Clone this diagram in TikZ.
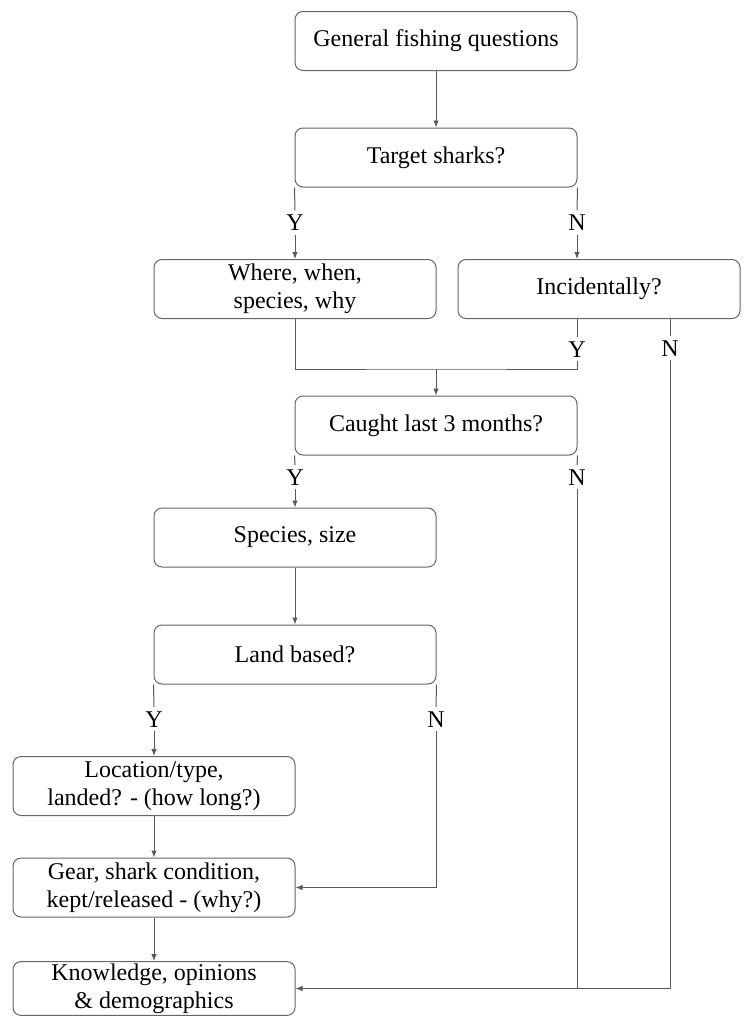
\documentclass[tikz,border=0pt]{standalone}
\usepackage{fontspec}
\setmainfont{Liberation Serif}
\usetikzlibrary{arrows.meta}
\begin{document}
\begin{tikzpicture}[x=1pt,y=-1pt,
  stepbox/.style={draw=black!60, line width=1pt, rounded corners=8pt, minimum width=282pt, minimum height=59pt, align=center, inner sep=2pt, font=\fontsize{24}{28}\selectfont},
  yn/.style={font=\fontsize{24}{28}\selectfont, inner sep=0pt, text height=16pt, text depth=0pt, minimum height=24pt},
  conn/.style={draw=black!65, line width=1pt},
  arr/.style={conn, -{Latex[length=7pt,width=5.5pt]}}]
\useasboundingbox[fill=white] (0,0) rectangle (745,1017);
% boxes
\node[stepbox] (gen) at (436,41) {General fishing questions};
\node[stepbox] (target) at (436,157.5) {Target sharks?};
\node[stepbox] (where) at (295,289) {Where, when,\\species, why};
\node[stepbox] (incid) at (599,289) {Incidentally?};
\node[stepbox] (caught) at (436,425.5) {Caught last 3 months?};
\node[stepbox] (species) at (295,537.5) {Species, size};
\node[stepbox] (land) at (295,654.5) {Land based?};
\node[stepbox] (loc) at (154,786) {Location/type,\\landed? - (how long?)};
\node[stepbox] (gear) at (154,887.5) {Gear, shark condition,\\kept/released - (why?)};
\node[stepbox, minimum height=53pt] (know) at (154,988.5) {Knowledge, opinions\\\& demographics};
% labels
\node[yn] (yT) at (295,222.5) {Y};
\node[yn] (nT) at (577,222.5) {N};
\node[yn] (yI) at (577,349) {Y};
\node[yn] (nI) at (670,348) {N};
\node[yn] (yC) at (295,477) {Y};
\node[yn] (nC) at (577,477) {N};
\node[yn] (yL) at (154,719) {Y};
\node[yn] (nL) at (436,719) {N};
\coordinate (merge) at (436,369);
% connectors
\draw[arr] (gen) -- (target);
\draw[conn] (target.south west) -- (yT.north);
\draw[arr] (yT.south) -- (where.north);
\draw[conn] (target.south east) -- (nT.north);
\draw[arr] (nT.south) -- (nT |- incid.north);
\draw[conn] (incid.south -| yI) -- (yI.north);
\draw[conn] (where.south) |- (merge) -| (yI.south);
\draw[arr] (merge) -- (caught.north);
\draw[conn] (incid.south -| nI) -- (nI.north);
\draw[arr] (nI.south) |- (know.east);
\draw[conn] (caught.south east) -- (nC.north);
\draw[conn] (nC.south) -- (nC |- know.east);
\draw[conn] (caught.south west) -- (yC.north);
\draw[arr] (yC.south) -- (species.north);
\draw[arr] (species) -- (land);
\draw[conn] (land.south west) -- (yL.north);
\draw[arr] (yL.south) -- (loc.north);
\draw[conn] (land.south east) -- (nL.north);
\draw[arr] (nL.south) |- (gear.east);
\draw[arr] (loc) -- (gear);
\draw[arr] (gear) -- (know);
\end{tikzpicture}
\end{document}
